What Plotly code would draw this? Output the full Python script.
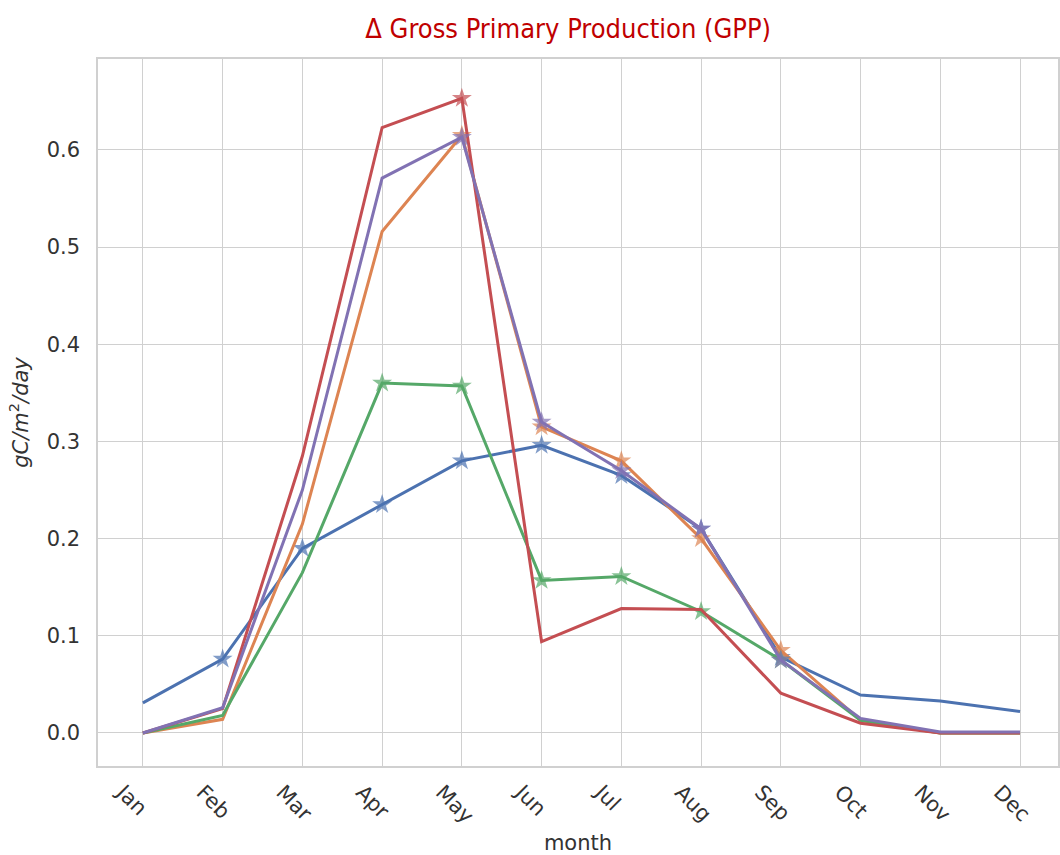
import plotly.graph_objects as go

months = ["Jan", "Feb", "Mar", "Apr", "May", "Jun", "Jul", "Aug", "Sep", "Oct", "Nov", "Dec"]

blue = [0.031, 0.076, 0.190, 0.235, 0.280, 0.296, 0.265, 0.210, 0.078, 0.039, 0.033, 0.022]
orange = [0.000, 0.014, 0.215, 0.516, 0.615, 0.315, 0.280, 0.200, 0.085, 0.013, 0.000, 0.000]
green = [0.000, 0.018, 0.165, 0.360, 0.357, 0.157, 0.161, 0.125, 0.075, 0.013, 0.000, 0.000]
red = [0.000, 0.025, 0.285, 0.623, 0.653, 0.094, 0.128, 0.127, 0.041, 0.010, 0.000, 0.000]
purple = [0.000, 0.026, 0.250, 0.571, 0.613, 0.320, 0.270, 0.210, 0.075, 0.015, 0.001, 0.001]

# months flagged with a star marker for each series
blue_sig = [0, 1, 1, 1, 1, 1, 1, 1, 1, 0, 0, 0]
orange_sig = [0, 0, 0, 0, 1, 1, 1, 1, 1, 0, 0, 0]
green_sig = [0, 0, 0, 1, 1, 1, 1, 1, 1, 0, 0, 0]
red_sig = [0, 0, 0, 0, 1, 0, 0, 0, 0, 0, 0, 0]
purple_sig = [0, 0, 0, 0, 1, 1, 1, 1, 1, 0, 0, 0]

series = [
    (blue, blue_sig, "#4C72B0"),
    (orange, orange_sig, "#DD8452"),
    (green, green_sig, "#55A868"),
    (red, red_sig, "#C44E52"),
    (purple, purple_sig, "#8172B3"),
]

fig = go.Figure()
for vals, sig, col in series:
    fig.add_trace(go.Scatter(
        x=list(range(len(months))), y=vals, mode="lines+markers",
        line=dict(color=col, width=3),
        marker=dict(symbol="star", size=[15 if s else 0 for s in sig], color=col,
                    line=dict(width=0)),
        showlegend=False,
    ))

axis_font = dict(family="DejaVu Sans", size=21, color="#333333")
fig.update_layout(
    width=1060, height=855,
    margin=dict(l=98, r=0, t=59, b=89),
    paper_bgcolor="white", plot_bgcolor="white",
    title=dict(text="Δ Gross Primary Production (GPP)",
               font=dict(family="DejaVu Sans Condensed", size=27, color="#C00000"),
               x=0.536, xanchor="center", y=0.967, yanchor="middle"),
    xaxis=dict(
        range=[-0.563, 11.476], tickmode="array", tickvals=list(range(12)), ticktext=months,
        tickangle=45, tickfont=axis_font, showgrid=True, gridcolor="#d0d0d0", gridwidth=1.3,
        showline=True, linecolor="#d0d0d0", linewidth=1.5, mirror=True, zeroline=False,
        ticks="", ticklabelshift=-20, ticklabelstandoff=4,
        title=dict(text="month", font=axis_font, standoff=12),
    ),
    yaxis=dict(
        range=[-0.034, 0.6935], tickmode="array", tickvals=[0, 0.1, 0.2, 0.3, 0.4, 0.5, 0.6],
        ticktext=["0.0", "0.1", "0.2", "0.3", "0.4", "0.5", "0.6"],
        tickfont=axis_font, showgrid=True, gridcolor="#d0d0d0", gridwidth=1.3,
        showline=True, linecolor="#d0d0d0", linewidth=1.5, mirror=True, zeroline=False,
        ticks="", ticklabelstandoff=12,
        title=dict(text="<i>gC/m</i><sup>2</sup><i>/day</i>", font=axis_font, standoff=12),
    ),
)

fig.write_html("out.html")
